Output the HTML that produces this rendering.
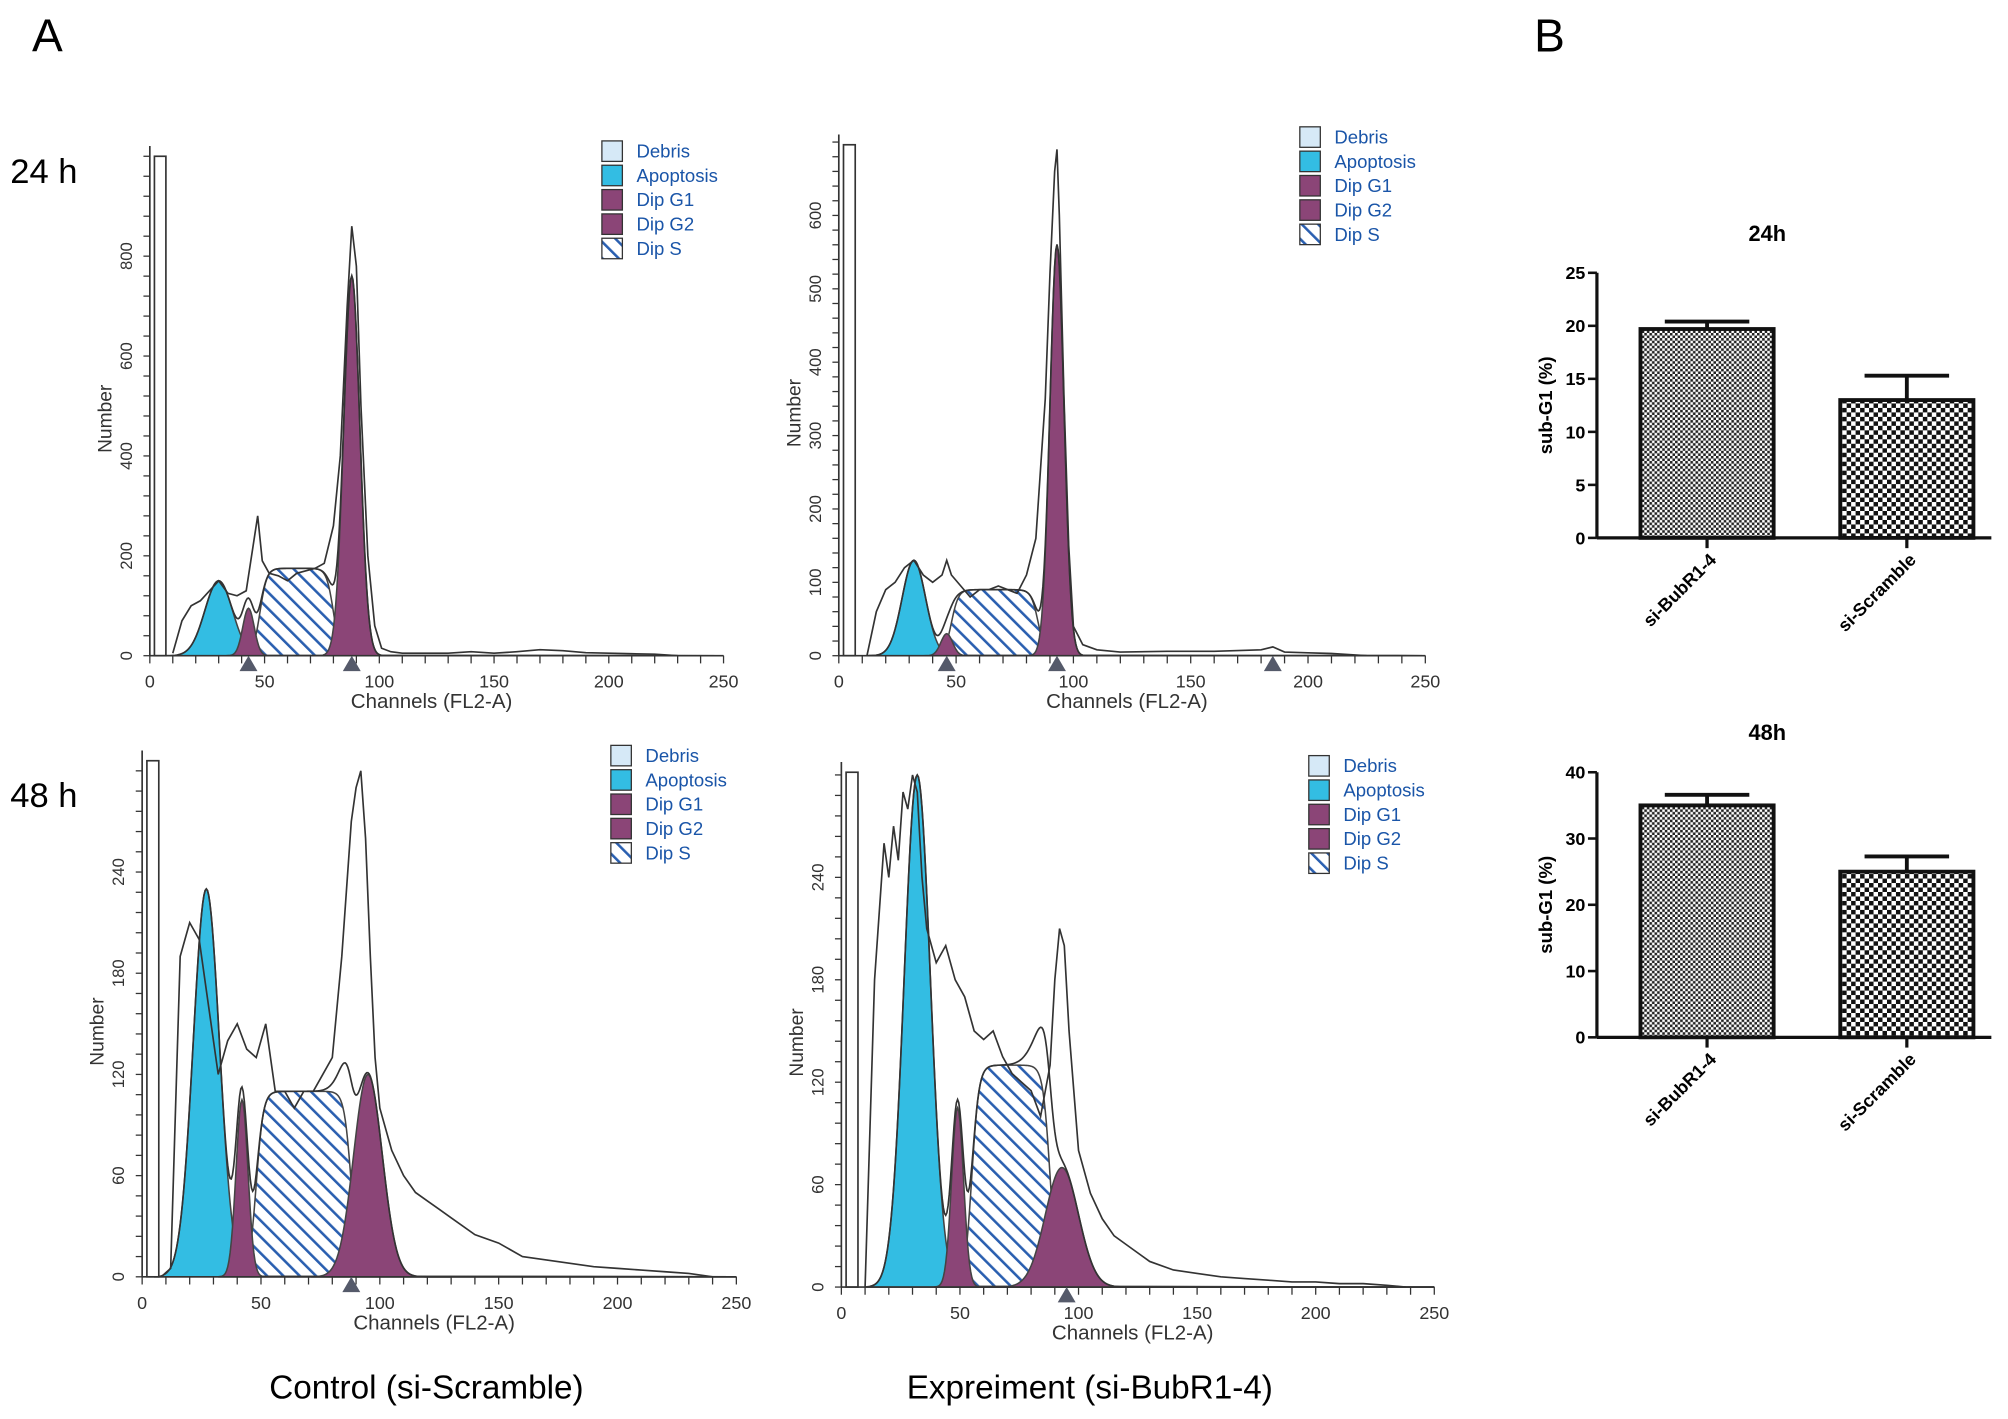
<!DOCTYPE html>
<html><head><meta charset="utf-8"><style>
html,body{margin:0;padding:0;background:#fff}
svg{display:block}
text{font-family:"Liberation Sans",sans-serif}
</style></head><body>
<svg id="fig" width="2008" height="1419" viewBox="0 0 1568 1108" xmlns="http://www.w3.org/2000/svg">
<defs>
<pattern id="hatch" patternUnits="userSpaceOnUse" width="9" height="9" patternTransform="rotate(-45)">
<rect width="9" height="9" fill="#fff"/><rect x="0" y="0" width="2" height="9" fill="#2a5fb0"/></pattern>
<pattern id="chk1" patternUnits="userSpaceOnUse" width="4" height="4"><rect width="4" height="4" fill="#fff"/><rect width="2" height="2" fill="#222"/><rect x="2" y="2" width="2" height="2" fill="#222"/></pattern>
<pattern id="chk2" patternUnits="userSpaceOnUse" width="7" height="7"><rect width="7" height="7" fill="#fff"/><rect width="3.5" height="3.5" fill="#111"/><rect x="3.5" y="3.5" width="3.5" height="3.5" fill="#111"/></pattern>
</defs>
<text x="25" y="40" font-size="36">A</text>
<text x="1198" y="40" font-size="36">B</text>
<text x="8" y="143" font-size="27">24 h</text>
<text x="8" y="630" font-size="27">48 h</text>
<text x="333" y="1092" font-size="26" text-anchor="middle">Control (si-Scramble)</text>
<text x="851" y="1092" font-size="26" text-anchor="middle">Expreiment (si-BubR1-4)</text>
<g id="plots"></g>
</svg>
<script>
// ---- Histogram data (channels / counts) ----
const p1Ch=[10,14,18,22,26,30,34,38,42,45,47,49,52,56,60,64,68,72,76,80,83,86,88,90,92,95,98,101,105,110,120,130,140,150,160,170,180,190,200,210,220,230];
const p1Ct=[5,70,100,110,130,150,125,120,130,220,280,190,165,160,150,165,170,175,185,260,400,700,860,780,500,200,60,15,8,5,5,5,8,5,8,12,10,6,5,4,3,0];
const p2Ch=[12,16,20,24,28,32,36,40,44,46,48,52,56,60,64,68,72,76,80,84,88,90,92,93,94,96,98,100,104,110,120,140,160,180,185,190,200,210,225];
const p2Ct=[0,60,90,100,120,130,110,100,110,130,110,95,80,90,90,95,90,85,110,160,350,520,660,690,600,350,150,40,15,8,5,6,6,8,12,5,4,3,0];
const p3Ch=[8,12,16,20,24,28,32,36,40,44,48,52,56,60,64,68,72,76,80,84,88,90,92,94,96,98,100,105,110,115,120,125,130,140,150,160,170,180,190,200,210,220,230,240];
const p3Ct=[0,5,190,210,200,160,120,140,150,135,130,150,110,110,100,110,110,120,130,190,270,290,300,260,190,130,100,75,60,50,45,40,35,25,20,12,10,8,6,5,4,3,2,0];
const p4Ch=[10,14,18,20,22,24,26,28,30,32,34,36,40,44,48,52,56,60,64,68,72,76,80,84,88,90,92,94,96,100,105,110,115,120,130,140,150,160,170,180,190,200,210,220,230,238];
const p4Ct=[0,180,260,240,270,250,290,280,300,290,240,210,190,200,180,170,150,145,150,135,125,120,115,100,130,180,210,200,150,80,55,40,30,25,15,10,8,6,5,4,3,3,2,2,1,0];
// component params: [center, sd, height]
const p1Apo=[30,6,150], p1G1=[43,2.5,95], p1G2=[88,3.5,760], p1S=[48,80,175];
const p2Apo=[32,5,130], p2G1=[46,2.5,30], p2G2=[93,3,560], p2S=[48,85,90];
const p3Apo=[27,5.5,230], p3G1=[42,2.5,105], p3G2=[95,6,120], p3S=[48,88,110];
const p4Apo=[32,5.5,300], p4G1=[49,2.5,105], p4G2=[93,7,70], p4S=[55,88,130];
const p1Yt=[0,200,400,600,800], p2Yt=[0,100,200,300,400,500,600], p3Yt=[0,60,120,180,240], p4Yt=[0,60,120,180,240];
const p1Mk=[43,88], p2Mk=[46,93,185], p3Mk=[88], p4Mk=[95];
const xTicks=[0,50,100,150,200,250];
// ---- Bar data ----
const barCats=['si-BubR1-4','si-Scramble'];
const bar24=[19.7,13.0], err24=[0.7,2.3];
const bar48=[35.0,25.0], err48=[1.6,2.3];
const ticks24=[0,5,10,15,20,25], ticks48=[0,10,20,30,40];

const NS='http://www.w3.org/2000/svg';
const root=document.getElementById('plots');
function mk(tag,attrs,parent){const e=document.createElementNS(NS,tag);for(const k in attrs)e.setAttribute(k,attrs[k]);(parent||root).appendChild(e);return e;}
function gauss(c,p){return p[2]*Math.exp(-0.5*Math.pow((c-p[0])/p[1],2));}
function sPh(c,p){const w=3;const a=1/(1+Math.exp(-(c-p[0])/w*2)),b=1/(1+Math.exp((c-p[1])/w*2));return p[2]*a*b;}

function histo(cfg){
  const g=mk('g',{});
  
  
  const X=c=>cfg.x0+(c/250)*(cfg.x1-cfg.x0);
  const Y=v=>cfg.y0-v*cfg.ys;
  const fillComp=(fn,p,fill,nm)=>{let d='M'+X(p[0]-4*(p[1]||10))+','+cfg.y0;
    for(let c=0;c<=250;c+=0.5){const v=fn(c,p);if(v>0.3)d+=' L'+X(c)+','+Y(v);}
    d+=' L'+X(250)+','+cfg.y0+'Z';
    const e=mk('path',{d:d,fill:fill,stroke:'#444','stroke-width':1.2},g);
    
    };
  let d='';let first=true;
  for(let c=cfg.S[0]-12;c<=cfg.S[1]+12;c+=0.5){d+=(first?'M':' L')+X(c)+','+Y(sPh(c,cfg.S));first=false;}
  const sp=mk('path',{d:d+'Z',fill:'url(#hatch)',stroke:'#444','stroke-width':1.2},g);
  
  
  fillComp(gauss,cfg.apo,'#33bde3','apoptosis-area');
  fillComp(gauss,cfg.g1,'#8b4577','dip-g1-area');
  fillComp(gauss,cfg.g2,'#8b4577','dip-g2-area');
  d='';first=true;
  for(let c=12;c<=130;c+=0.5){const v=gauss(c,cfg.apo)+gauss(c,cfg.g1)+gauss(c,cfg.g2)+sPh(c,cfg.S);d+=(first?'M':' L')+X(c)+','+Y(v);first=false;}
  const ml=mk('path',{d:d,fill:'none',stroke:'#333','stroke-width':1.3},g);
  
  
  d='';
  cfg.ch.forEach((c,i)=>{d+=(i?' L':'M')+X(c)+','+Y(cfg.ct[i]);});
  const rl=mk('path',{d:d,fill:'none',stroke:'#333','stroke-width':1.3},g);
  
  
  const db=mk('rect',{x:X(2),y:cfg.top,width:X(7)-X(2),height:cfg.y0-cfg.top,fill:'#fff',stroke:'#333','stroke-width':1.3},g);
  
  
  mk('line',{x1:cfg.x0,y1:cfg.y0,x2:cfg.x1,y2:cfg.y0,stroke:'#333','stroke-width':1.3},g);
  mk('line',{x1:cfg.x0,y1:cfg.y0,x2:cfg.x0,y2:cfg.top-8,stroke:'#333','stroke-width':1.3},g);
  for(let c=0;c<=250;c+=10){mk('line',{x1:X(c),y1:cfg.y0,x2:X(c),y2:cfg.y0+6,stroke:'#333','stroke-width':1},g);}
  xTicks.forEach(t=>{const e=mk('text',{x:X(t),y:cfg.y0+25,'font-size':14,'text-anchor':'middle',fill:'#333'},g);e.textContent=t;
    
    });
  const step=cfg.yt[1]-cfg.yt[0];
  for(let v=0;Y(v)>cfg.top-6;v+=step/5){mk('line',{x1:cfg.x0-5,y1:Y(v),x2:cfg.x0,y2:Y(v),stroke:'#333','stroke-width':1},g);}
  cfg.yt.forEach(t=>{const e=mk('text',{x:cfg.x0-14,y:Y(t),'font-size':13,'text-anchor':'middle',fill:'#333',transform:'rotate(-90 '+(cfg.x0-14)+' '+Y(t)+')'},g);e.textContent=t;
    
    });
  cfg.mk.forEach(c=>{const e=mk('path',{d:'M'+(X(c)-7)+','+(cfg.y0+12)+' L'+(X(c)+7)+','+(cfg.y0+12)+' L'+X(c)+','+(cfg.y0)+'Z',fill:'#555a6a'},g);
    
    });
  const xt=mk('text',{x:(cfg.x0+cfg.x1)/2-4,y:cfg.y0+41,'font-size':16,'text-anchor':'middle',fill:'#333'},g);xt.textContent='Channels (FL2-A)';
  
  
  const yy=(cfg.y0+cfg.top)/2+10;
  const yl=mk('text',{x:cfg.x0-30,y:yy,'font-size':15,'text-anchor':'middle',fill:'#333',transform:'rotate(-90 '+(cfg.x0-30)+' '+yy+')'},g);yl.textContent='Number';
  
  
  const items=[['Debris','#d6e9f7'],['Apoptosis','#33bde3'],['Dip G1','#8b4577'],['Dip G2','#8b4577'],['Dip S','url(#hatch)']];
  items.forEach((it,i)=>{const ly=cfg.lg[1]+i*19;
    const r=mk('rect',{x:cfg.lg[0],y:ly,width:16,height:16,fill:it[1],stroke:'#333','stroke-width':1},g);
    
    
    const t=mk('text',{x:cfg.lg[0]+27,y:ly+13,'font-size':14.5,fill:'#1a55a8'},g);t.textContent=it[0];
    
    });
}
histo({name:'histogram-24h-control',x0:117,x1:565,y0:512,ys:0.39,top:122,ch:p1Ch,ct:p1Ct,apo:p1Apo,g1:p1G1,g2:p1G2,S:p1S,yt:p1Yt,mk:p1Mk,lg:[470,110]});
histo({name:'histogram-24h-experiment',x0:655,x1:1113,y0:512,ys:0.573,top:113,ch:p2Ch,ct:p2Ct,apo:p2Apo,g1:p2G1,g2:p2G2,S:p2S,yt:p2Yt,mk:p2Mk,lg:[1015,99]});
histo({name:'histogram-48h-control',x0:111,x1:575,y0:997,ys:1.317,top:594,ch:p3Ch,ct:p3Ct,apo:p3Apo,g1:p3G1,g2:p3G2,S:p3S,yt:p3Yt,mk:p3Mk,lg:[477,582]});
histo({name:'histogram-48h-experiment',x0:657,x1:1120,y0:1005,ys:1.333,top:603,ch:p4Ch,ct:p4Ct,apo:p4Apo,g1:p4G1,g2:p4G2,S:p4S,yt:p4Yt,mk:p4Mk,lg:[1022,590]});

function bars(cfg){
  const g=mk('g',{});
  
  
  const Y=v=>cfg.y0-(v/cfg.max)*(cfg.y0-cfg.ytop);
  const bx=[[1281,1385],[1437,1541]];
  cfg.vals.forEach((v,i)=>{const e=cfg.errs[i];const cx=(bx[i][0]+bx[i][1])/2;
    mk('line',{x1:cx,y1:Y(v),x2:cx,y2:Y(v+e),stroke:'#111','stroke-width':3},g);
    mk('line',{x1:cx-33,y1:Y(v+e),x2:cx+33,y2:Y(v+e),stroke:'#111','stroke-width':3},g);
    const r=mk('rect',{x:bx[i][0],y:Y(v),width:bx[i][1]-bx[i][0],height:cfg.y0-Y(v),fill:i?'url(#chk2)':'url(#chk1)',stroke:'#111','stroke-width':3},g);
    
    
    mk('line',{x1:cx,y1:cfg.y0,x2:cx,y2:cfg.y0+8,stroke:'#111','stroke-width':2.5},g);
    const t=mk('text',{x:cx+8,y:cfg.y0+18,'font-size':14,'font-weight':'bold','text-anchor':'end',transform:'rotate(-45 '+(cx+8)+' '+(cfg.y0+18)+')'},g);t.textContent=barCats[i];
    
    });
  mk('line',{x1:1247,y1:cfg.ytop,x2:1247,y2:cfg.y0,stroke:'#111','stroke-width':2.5},g);
  mk('line',{x1:1247,y1:cfg.y0,x2:1555,y2:cfg.y0,stroke:'#111','stroke-width':2.5},g);
  cfg.ticks.forEach(t=>{mk('line',{x1:1240,y1:Y(t),x2:1247,y2:Y(t),stroke:'#111','stroke-width':2},g);
    const e=mk('text',{x:1238,y:Y(t)+5,'font-size':14,'font-weight':'bold','text-anchor':'end'},g);e.textContent=t;
    
    });
  const tt=mk('text',{x:1380,y:cfg.ytop-25,'font-size':17,'font-weight':'bold','text-anchor':'middle'},g);tt.textContent=cfg.title;
  
  
  const yy=(cfg.y0+cfg.ytop)/2;
  const yl=mk('text',{x:1212,y:yy,'font-size':14.5,'font-weight':'bold','text-anchor':'middle',transform:'rotate(-90 1212 '+yy+')'},g);yl.textContent='sub-G1 (%)';
  
  
}
bars({name:'bar-chart-24h',y0:420,ytop:213,max:25,vals:bar24,errs:err24,ticks:ticks24,title:'24h'});
bars({name:'bar-chart-48h',y0:810,ytop:603,max:40,vals:bar48,errs:err48,ticks:ticks48,title:'48h'});
</script>
</body></html>
